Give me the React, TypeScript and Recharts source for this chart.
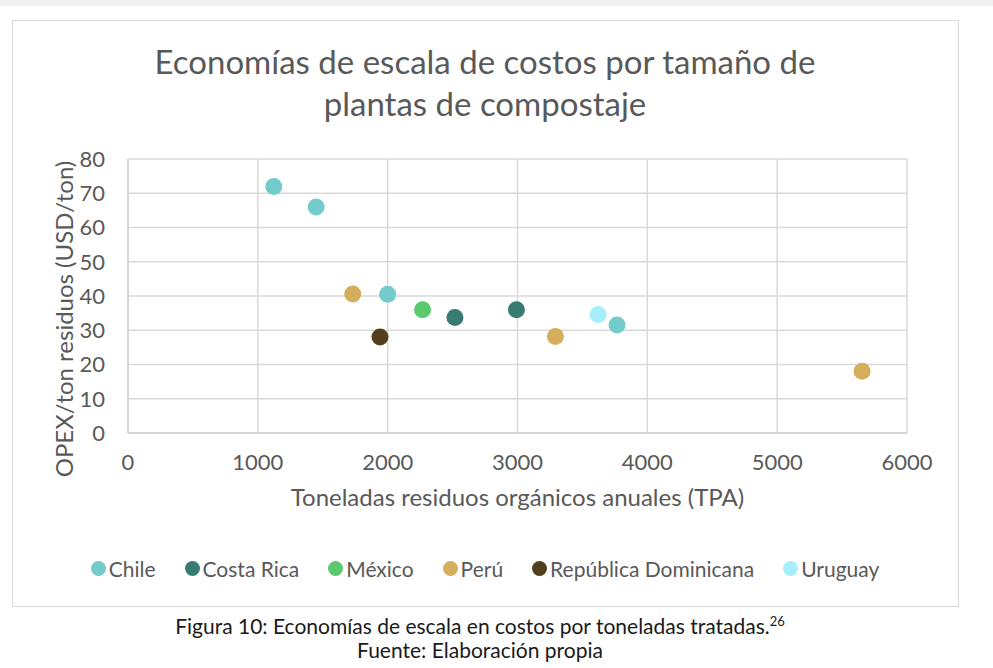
import React from "react";
import {
  ScatterChart,
  Scatter,
  XAxis,
  YAxis,
  CartesianGrid,
  Legend,
} from "recharts";

const FONT = "Lato, 'Open Sans', sans-serif";
const TEXT = "#595959";

const countries = ["Chile", "Costa Rica", "México", "Perú", "República Dominicana", "Uruguay"];
const colors = ["#73CBCB", "#387C71", "#5BC96D", "#D4AE5C", "#533F1D", "#A5EEFA"];

const chileTpa = [1123, 1449, 2000, 3767];
const chileOpex = [72, 66, 40.5, 31.5];
const costaRicaTpa = [2518, 2992];
const costaRicaOpex = [33.7, 36];
const mexicoTpa = [2269];
const mexicoOpex = [36];
const peruTpa = [1731, 3292, 5654];
const peruOpex = [40.6, 28.2, 18];
const dominicanaTpa = [1941];
const dominicanaOpex = [28];
const uruguayTpa = [3621];
const uruguayOpex = [34.6];

const xTicks = [0, 1000, 2000, 3000, 4000, 5000, 6000];
const yTicks = [0, 10, 20, 30, 40, 50, 60, 70, 80];

const toPoints = (xs: number[], ys: number[]) => xs.map((x, i) => ({ x, y: ys[i] }));

const series = [
  toPoints(chileTpa, chileOpex),
  toPoints(costaRicaTpa, costaRicaOpex),
  toPoints(mexicoTpa, mexicoOpex),
  toPoints(peruTpa, peruOpex),
  toPoints(dominicanaTpa, dominicanaOpex),
  toPoints(uruguayTpa, uruguayOpex),
];

const dot = (color: string) => (props: any) =>
  <circle cx={props.cx} cy={props.cy} r={8.5} fill={color} />;

// excel centres the axis title a bit below the plot centre
const YTitle = (props: any) => {
  const { x, y, height } = props.viewBox;
  const cx = x + 51;
  const cy = y + height / 2 + 23;
  return (
    <text
      x={cx}
      y={cy}
      transform={`rotate(-90, ${cx}, ${cy})`}
      textAnchor="middle"
      dominantBaseline="central"
      fill={TEXT}
      fontSize={24}
      fontFamily={FONT}
    >
      OPEX/ton residuos (USD/ton)
    </text>
  );
};

const LegendContent = () => (
  <div
    style={{
      display: "flex",
      justifyContent: "center",
      alignItems: "center",
      gap: 29,
      fontFamily: FONT,
      fontSize: 21,
      color: TEXT,
      height: 30,
    }}
  >
    {countries.map((name, i) => (
      <div key={name} style={{ display: "flex", alignItems: "center" }}>
        <span
          style={{
            width: 15,
            height: 15,
            borderRadius: 8,
            background: colors[i],
            marginRight: 3,
            display: "inline-block",
          }}
        />
        <span>{name}</span>
      </div>
    ))}
  </div>
);

export default function App() {
  return (
    <div
      style={{
        position: "absolute",
        left: 0,
        top: 0,
        width: 993,
        height: 668,
        background: "#fff",
        fontFamily: FONT,
        overflow: "hidden",
      }}
    >
      <div style={{ position: "absolute", left: 0, top: 0, width: 993, height: 6, background: "#f0f0f0" }} />
      <div
        style={{
          position: "absolute",
          left: 12,
          top: 20,
          width: 945,
          height: 585,
          border: "1px solid #d9d9d9",
        }}
      />
      <div
        style={{
          position: "absolute",
          left: 12,
          top: 40,
          width: 946,
          textAlign: "center",
          fontSize: 33,
          lineHeight: "42px",
          color: TEXT,
        }}
      >
        Economías de escala de costos por tamaño de
        <br />
        plantas de compostaje
      </div>
      <div style={{ position: "absolute", left: 12, top: 20 }}>
        <ScatterChart
          width={946}
          height={586}
          margin={{ top: 139, right: 51, bottom: 63, left: 0 }}
        >
          <CartesianGrid stroke="#d9d9d9" strokeWidth={1.5} />
          <XAxis
            type="number"
            dataKey="x"
            domain={[0, 6000]}
            ticks={xTicks}
            interval={0}
            height={80}
            tickSize={0}
            tickMargin={21}
            axisLine={{ stroke: "#d0d0d0", strokeWidth: 1.5 }}
            tickLine={false}
            tick={{ fill: TEXT, fontSize: 22, fontFamily: FONT }}
            label={{
              value: "Toneladas residuos orgánicos anuales (TPA)",
              position: "insideTop",
              offset: 56,
              fill: TEXT,
              fontSize: 24,
              fontFamily: FONT,
            }}
          />
          <YAxis
            type="number"
            dataKey="y"
            domain={[0, 80]}
            ticks={yTicks}
            interval={0}
            width={116}
            tickSize={0}
            tickMargin={23}
            axisLine={{ stroke: "#d0d0d0", strokeWidth: 1.5 }}
            tickLine={false}
            tick={{ fill: TEXT, fontSize: 22, fontFamily: FONT }}
            label={{ content: YTitle }}
          />
          <Legend
            verticalAlign="bottom"
            content={LegendContent}
            wrapperStyle={{ top: 533, left: 0, width: 946, height: 30 }}
          />
          {series.map((pts, i) => (
            <Scatter
              key={countries[i]}
              name={countries[i]}
              data={pts}
              fill={colors[i]}
              shape={dot(colors[i])}
              isAnimationActive={false}
            />
          ))}
        </ScatterChart>
      </div>
      <div
        style={{
          position: "absolute",
          left: 0,
          top: 614,
          width: 960,
          textAlign: "center",
          fontSize: 21,
          lineHeight: "24px",
          color: "#1a1a1a",
        }}
      >
        Figura 10: Economías de escala en costos por toneladas tratadas.
        <sup style={{ fontSize: 13, lineHeight: 0 }}>26</sup>
        <br />
        Fuente: Elaboración propia
      </div>
    </div>
  );
}
